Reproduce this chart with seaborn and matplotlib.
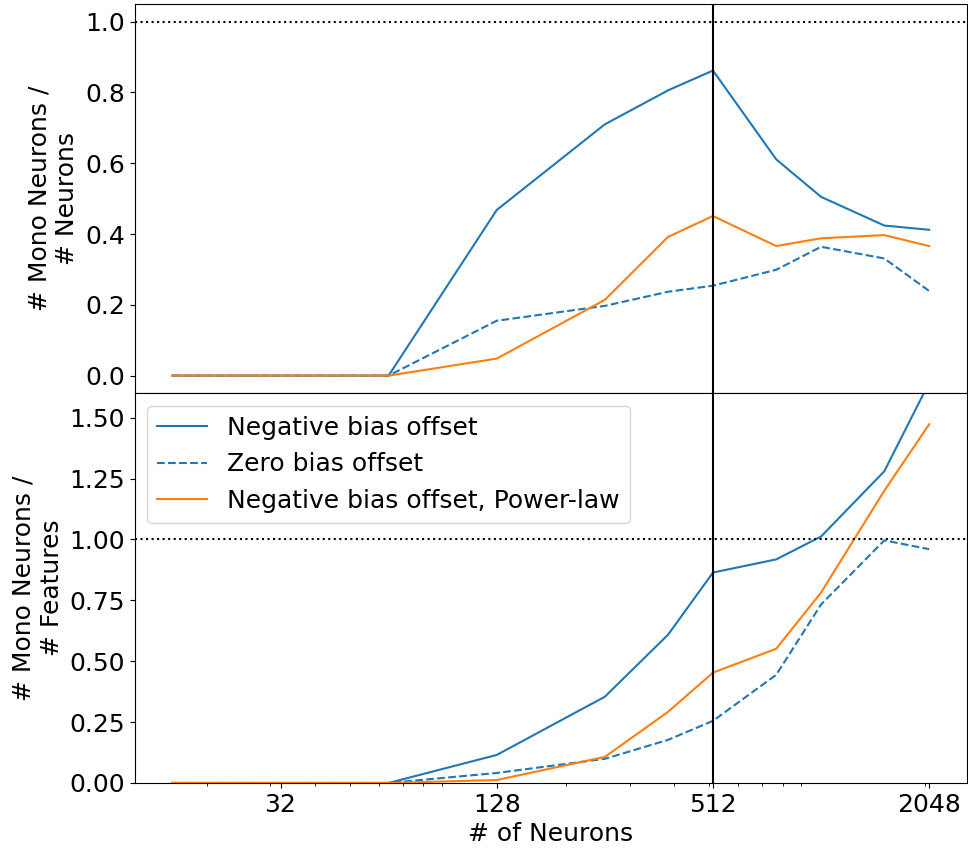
import matplotlib
matplotlib.use("Agg")
import matplotlib.pyplot as plt
import pandas as pd
import seaborn as sns
from matplotlib.ticker import NullFormatter, FixedLocator, FixedFormatter

# Number of hidden neurons in each model
n_neurons = [16, 32, 64, 128, 256, 384, 512, 768, 1024, 1536, 2048]

# Fraction of monosemantic neurons (mono neurons / neurons)
frac_neg = [0, 0, 0, 0.468, 0.710, 0.806, 0.862, 0.611, 0.505, 0.424, 0.412]
frac_zero = [0, 0, 0, 0.155, 0.197, 0.237, 0.254, 0.299, 0.364, 0.331, 0.239]
frac_pow = [0, 0, 0, 0.048, 0.214, 0.392, 0.451, 0.366, 0.388, 0.397, 0.366]

# Monosemantic neurons relative to the number of features (mono neurons / features)
feat_neg = [0, 0, 0, 0.115, 0.354, 0.609, 0.864, 0.918, 1.012, 1.280, 1.644]
feat_zero = [0, 0, 0, 0.041, 0.099, 0.177, 0.255, 0.444, 0.733, 0.996, 0.960]
feat_pow = [0, 0, 0, 0.012, 0.107, 0.292, 0.453, 0.551, 0.782, 1.200, 1.473]

series_names = ["Negative bias offset", "Zero bias offset",
                "Negative bias offset, Power-law"]
series_colors = ["#1f77b4", "#1f77b4", "#ff7f0e"]
series_styles = ["-", "--", "-"]

xtick_values = [32, 128, 512, 2048]
xtick_labels = ["32", "128", "512", "2048"]
n_features = 512

plt.rcParams["font.family"] = ["DejaVu Sans"]
plt.rcParams["font.size"] = 18

fig = plt.figure(figsize=(9.68, 8.48), dpi=100)
ax_top = fig.add_axes([0.139, 0.5362, 0.860, 0.4591])
ax_bot = fig.add_axes([0.139, 0.0767, 0.860, 0.4595], sharex=ax_top)

panels = [
    (ax_top, [frac_neg, frac_zero, frac_pow]),
    (ax_bot, [feat_neg, feat_zero, feat_pow]),
]

for ax, ys in panels:
    for name, vals, color, ls in zip(series_names, ys, series_colors, series_styles):
        df = pd.DataFrame({"n": n_neurons, "v": vals})
        sns.lineplot(data=df, x="n", y="v", ax=ax, color=color, linestyle=ls,
                     linewidth=1.5, label=name, legend=False)
    ax.axhline(1.0, color="black", linestyle=":", linewidth=1.5)
    ax.axvline(n_features, color="black", linewidth=1.5)
    ax.set_xlabel("")

ax_top.set_xscale("log")
ax_top.set_ylim(-0.05, 1.05)
ax_top.set_yticks([0.0, 0.2, 0.4, 0.6, 0.8, 1.0])
ax_top.set_ylabel("# Mono Neurons /\n# Neurons")
ax_top.tick_params(axis="x", which="both", labelbottom=False)

ax_bot.set_ylim(0, 1.6)
ax_bot.set_yticks([0.0, 0.25, 0.5, 0.75, 1.0, 1.25, 1.5])
ax_bot.set_ylabel("# Mono Neurons /\n# Features")
ax_bot.xaxis.set_major_locator(FixedLocator(xtick_values))
ax_bot.xaxis.set_major_formatter(FixedFormatter(xtick_labels))
ax_bot.xaxis.set_minor_formatter(NullFormatter())
ax_bot.set_xlabel("# of Neurons")
ax_bot.legend(loc="upper left")

fig.align_ylabels([ax_top, ax_bot])
fig.savefig("out.png", dpi=100)
